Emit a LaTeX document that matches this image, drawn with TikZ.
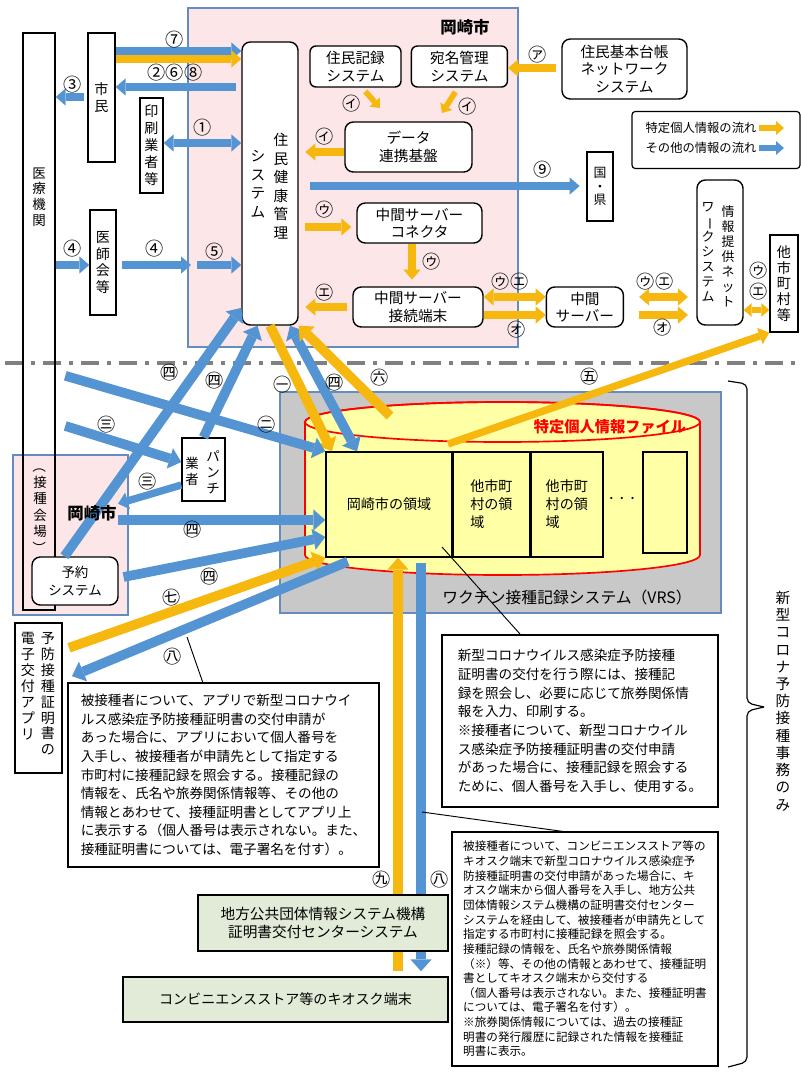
\documentclass[tikz,border=0pt]{standalone}
\usepackage{fontspec}
\setmainfont{Noto Sans CJK JP}
\usetikzlibrary{arrows.meta, positioning}

\definecolor{ocol}{RGB}{246,184,14}
\definecolor{bcol}{RGB}{84,148,210}
\definecolor{pinkbg}{RGB}{252,230,232}
\definecolor{framec}{RGB}{100,140,190}
\definecolor{vrsgray}{RGB}{200,200,200}
\definecolor{cylyel}{RGB}{255,255,165}
\definecolor{greenbg}{RGB}{225,235,215}
\definecolor{dashgray}{RGB}{128,128,128}

\newcommand{\vch}{\rotatebox[origin=c]{-90}{ー}} % long vowel mark in vertical text
\newcommand{\vparl}{\rotatebox[origin=c]{-90}{（}}
\newcommand{\vparr}{\rotatebox[origin=c]{-90}{）}}

\tikzset{
        box/.style={draw, line width=1.2pt, fill=white, inner sep=0pt, align=center, font=\fontsize{12.5}{15}\selectfont}, % plain boxes
        rbox/.style={box, rounded corners=2.5mm}, % rounded boxes
        vtxt/.style={inner sep=0pt, align=center}, % stacked (vertical) text
        cl/.style={inner sep=0pt, font=\fontsize{15.5}{15.5}\selectfont}, % circled labels
        note/.style={draw, line width=1.2pt, fill=white, inner sep=0pt, align=left}, % explanations
        area/.style={draw=framec, line width=0.5mm}, % coloured areas
        oarr/.style={draw=ocol, line width=2.2mm, ->}, % specific personal information
        barr/.style={draw=bcol, line width=2.2mm, ->}, % other information
        wide/.style={line width=2.9mm, >={Triangle[width=6.4mm,length=3.6mm,line width=0pt]}, ->},
        slim/.style={line width=1.7mm, >={Triangle[width=4.2mm,length=2.4mm,line width=0pt]}, ->},
    }

\begin{document}
\begin{tikzpicture}[x=0.3mm, y=-0.3mm, >={Triangle[width=5.2mm,length=3mm,line width=0pt]}]
    \useasboundingbox (0,0) rectangle (801,1073);
    % areas
    \draw[area, fill=pinkbg] (188,8) rectangle (518,347);
    \draw[area, fill=pinkbg] (13,455) rectangle (128,615);
    \draw[area, fill=vrsgray] (280,392) rectangle (721,613);
    \draw[red, line width=0.5mm, fill=cylyel] (305,422) -- (305,555)
      arc[start angle=180, end angle=360, x radius=59.25mm, y radius=6mm] -- (700,422)
      arc[start angle=0, end angle=180, x radius=59.25mm, y radius=6mm] -- cycle;
    \draw[red, line width=0.5mm] (502.5,422) ellipse[x radius=59.25mm, y radius=6mm];
    \draw[dashgray, line width=1.2mm, dash pattern=on 5.4mm off 2.4mm on 1.2mm off 2.4mm] (5,363) -- (801,363);
    \node[font=\bfseries\fontsize{14}{14}\selectfont] (okatop) at (465,27) {岡崎市};
    \node[font=\bfseries\fontsize{13}{13}\selectfont, text=red] (tokutei) at (610,427) {特定個人情報ファイル};
    \node[font=\fontsize{13.5}{13.5}\selectfont] (vrs) at (567,597) {ワクチン接種記録システム（VRS）};

    % left column
    \node[box, fill=none, minimum width=9.6mm, minimum height=173.1mm] (iryo) at (39,321.5) {};
    \node[vtxt, font=\fontsize{11.5}{13.5}\selectfont] (iryotxt) at (39,197) {医\\療\\機\\関};
    \node[vtxt, font=\fontsize{11.5}{14}\selectfont] (kaijo) at (40,507) {\vparl\\接\\種\\会\\場\\\vparr};
    \node[box, minimum width=8.1mm, minimum height=38.7mm, font=\fontsize{12}{14.5}\selectfont] (shimin) at (101.5,97.5) {市\\民};
    \node[box, minimum width=6.9mm, minimum height=28.5mm, font=\fontsize{12}{14.5}\selectfont] (insatsu) at (151.5,145.5) {印\\刷\\業\\者\\等};
    \node[box, minimum width=7.8mm, minimum height=31.5mm, font=\fontsize{12}{14.2}\selectfont] (ishikai) at (103,262.5) {医\\師\\会\\等};

    % Okazaki city systems
    \node[rbox, minimum width=16.8mm, minimum height=84.9mm] (kenko) at (270,183.5) {};
    \node[vtxt, font=\fontsize{12.5}{15.8}\selectfont] (kenkoA) at (281,186) {住\\民\\健\\康\\管\\理};
    \node[vtxt, font=\fontsize{12.5}{15.8}\selectfont] (kenkoB) at (258,184) {シ\\ス\\テ\\ム};
    \node[rbox, rounded corners=1.8mm, minimum width=27.3mm, minimum height=12.3mm] (juki) at (355.5,66.5) {住民記録\\システム};
    \node[rbox, rounded corners=1.8mm, minimum width=28.8mm, minimum height=12.3mm, right=2.7mm of juki] (atena) {宛名管理\\システム};
    \node[rbox, minimum width=37.5mm, minimum height=18mm] (jukinet) at (624.5,69) {住民基本台帳\\ネットワーク\\システム};
    \node[rbox, minimum width=38.1mm, minimum height=15mm] (renkei) at (408.5,147) {データ\\連携基盤};
    \node[rbox, minimum width=37.5mm, minimum height=12mm] (connector) at (419.5,223) {中間サーバー\\コネクタ};
    \node[rbox, minimum width=39mm, minimum height=12mm] (setsuzoku) at (418,307) {中間サーバー\\接続端末};
    \node[rbox, minimum width=23.1mm, minimum height=12mm, right=18.6mm of setsuzoku] (chukan) {中間\\サーバー};
    \node[box, minimum width=7.8mm, minimum height=20.7mm, font=\fontsize{11}{11.5}\selectfont] (kuni) at (600,186.5) {国\\・\\県};
    \node[rbox, minimum width=13.8mm, minimum height=43.5mm] (teikyo) at (720,252.5) {};
    \node[vtxt, font=\fontsize{11}{12.8}\selectfont] (teikyoA) at (728,256) {情\\報\\提\\供\\ネ\\ッ\\ト};
    \node[vtxt, font=\fontsize{11}{12.8}\selectfont] (teikyoB) at (708,252) {ワ\\\vch\\ク\\シ\\ス\\テ\\ム};
    \node[box, minimum width=8.4mm, minimum height=29.1mm, font=\fontsize{12}{13.4}\selectfont] (tashi) at (784,283.5) {他\\市\\町\\村\\等};
    \node[draw, line width=1pt, rounded corners=1mm, fill=white, minimum width=50.4mm, minimum height=17.1mm] (legend) at (716,140) {};
    \node[inner sep=0pt, font=\fontsize{10.5}{10.5}\selectfont] (leg1) at (701,128) {特定個人情報の流れ};
    \node[inner sep=0pt, font=\fontsize{10.5}{10.5}\selectfont] (leg2) at (701,148) {その他の情報の流れ};
    \coordinate (lo) at (784,128);
    \coordinate (lb) at (784,148);

    % lower part
    \node[rbox, minimum width=25.8mm, minimum height=14.4mm, font=\fontsize{11.5}{15}\selectfont] (yoyaku) at (75,581) {予約\\システム};
    \draw[barr, line width=2.9mm, >={Triangle[width=6.4mm,length=3.6mm,line width=0pt]}, ->] (yoyaku.113) -- (kenko.-103);
    \node[font=\bfseries\fontsize{14}{14}\selectfont, inner sep=1pt] (okalbl) at (92,513) {岡崎市};
    \node[box, minimum width=12.9mm, minimum height=18.9mm] (punch) at (203.5,469.5) {};
    \node[vtxt, font=\fontsize{11.5}{13.5}\selectfont] (punchA) at (213,472) {パ\\ン\\チ};
    \node[vtxt, font=\fontsize{11.5}{13.5}\selectfont] (punchB) at (192,471) {業\\者};
    \node[box, fill=cylyel, minimum width=37.8mm, minimum height=31.5mm, font=\fontsize{12}{15}\selectfont] (ryoiki) at (389,504.5) {岡崎市の領域};
    \node[box, fill=cylyel, minimum width=22.8mm, minimum height=31.5mm, align=left, font=\fontsize{12}{15.3}\selectfont, right=0mm of ryoiki] (tashiA) {他市町\\村の領\\域};
    \node[box, fill=cylyel, minimum width=21.6mm, minimum height=31.5mm, align=left, font=\fontsize{12}{15.3}\selectfont, right=0mm of tashiA] (tashiB) {他市町\\村の領\\域};
    \node[font=\fontsize{9}{9}\selectfont] (dots) at (622,500) {・・・};
    \node[box, fill=cylyel, minimum width=13.2mm, minimum height=30.3mm] (other) at (665,502.5) {};
    \node[box, minimum width=14.1mm, minimum height=45mm] (app) at (38.5,698) {};
    \node[vtxt, anchor=north, font=\fontsize{12}{13.6}\selectfont] (appA) at (48,632) {予\\防\\接\\種\\証\\明\\書\\の};
    \node[vtxt, anchor=north, font=\fontsize{12}{13.6}\selectfont] (appB) at (28,632) {電\\子\\交\\付\\ア\\プ\\リ};
    \node[box, fill=greenbg, minimum width=97.5mm, minimum height=13.5mm, font=\fontsize{12}{12}\selectfont] (kiosk) at (285.5,999.5) {コンビニエンスストア等のキオスク端末};

    \coordinate (p4) at (191,265);
    \coordinate (p5) at (197,265);
    \coordinate (i1) at (380,108);
    \coordinate (i2) at (442,113);
    \coordinate (top5) at (448,444);
    \coordinate (top6) at (390,416);
    \coordinate (cA) at (442,547);
    \coordinate (cB) at (187,637);
    \coordinate (cC) at (422,812);

    % flows inside the city
    \draw[barr] (shimin.east |- 0,51) -- (kenko.west |- 0,51);
    \draw[oarr] (shimin.east |- 0,59) -- (kenko.west |- 0,59);
    \draw[barr, shorten <=1.5mm] (kenko.west |- 0,87) -- (shimin.east |- 0,87);
    \draw[barr, shorten <=1mm] (shimin.west |- 0,97) -- (iryo.east |- 0,97);
    \draw[barr, <->] (insatsu.east |- 0,143) -- (kenko.west |- 0,143);
    \draw[barr] (iryo.east |- 0,265) -- (ishikai.west |- 0,265);
    \draw[barr, shorten <=1.5mm] (ishikai.east |- 0,265) -- (p4);
    \draw[barr] (p5) -- (kenko.west |- 0,265);
    \draw[oarr, slim, shorten <=1.5mm] (juki.south -| 362,0) -- (i1);
    \draw[oarr, slim, shorten <=1.5mm] (atena.south -| 458,0) -- (i2);
    \draw[oarr, shorten >=2mm] (renkei.west |- 0,152) -- (kenko.east |- 0,152);
    \draw[barr, shorten <=3.5mm, shorten >=2mm] (kenko.east |- 0,186) -- (kuni.west |- 0,186);
    \draw[oarr, shorten <=2mm, shorten >=1.5mm] (kenko.east |- 0,227) -- (connector.west |- 0,227);
    \draw[oarr, shorten >=2mm] (connector.south -| 412,0) -- (setsuzoku.north -| 412,0);
    \draw[oarr, shorten <=1.5mm, shorten >=2mm] (setsuzoku.west |- 0,307) -- (kenko.east |- 0,307);
    \draw[oarr, shorten <=1.5mm] (jukinet.west |- 0,68) -- (atena.east |- 0,68);
    \draw[oarr, <->] (setsuzoku.east |- 0,297) -- (chukan.west |- 0,297);
    \draw[oarr] (setsuzoku.east |- 0,315) -- (chukan.west |- 0,315);
    \draw[oarr, shorten <=4.5mm, shorten >=2.5mm, <->] (chukan.east |- 0,297) -- (teikyo.west |- 0,297);
    \draw[oarr, shorten <=4.5mm, shorten >=2.5mm] (chukan.east |- 0,315) -- (teikyo.west |- 0,315);
    \draw[oarr, slim, <->] (teikyo.east |- 0,310) -- (tashi.west |- 0,310);
    \draw[oarr, slim, shorten <=0.8mm] (leg1.east) -- (lo);
    \draw[barr, slim, shorten <=0.8mm] (leg2.east) -- (lb);

    % flows to and from VRS
    \draw[oarr] (top5) -- (tashi.south west);
    \draw[oarr, wide] (kenko.south) -- (ryoiki.137);
    \draw[barr, wide, <->] (kenko.-82) -- (ryoiki.121);
    \draw[oarr, wide] (top6) -- (kenko.south east);
    \draw[barr, wide] (punch.north) -- (kenko.-95);
    \draw[barr, wide, shorten <=3mm] (iryo.east |- 0,373) -- (ryoiki.north west);
    \draw[barr, wide, shorten <=3mm] (iryo.east |- 0,423) -- (punch.west |- 0,462);
    \draw[barr] (punch.west |- 0,485) -- (okalbl.north east);
    \draw[barr, wide] (okalbl.east |- 0,520) -- (ryoiki.west |- 0,520);
    \draw[barr, wide, shorten <=1.5mm] (yoyaku.east |- 0,578) -- (ryoiki.west |- 0,537);
    \draw[oarr, wide, shorten <=2mm] (app.east |- 0,650) -- (ryoiki.south west);
    \draw[barr, wide, shorten <=3mm, shorten >=3mm] (ryoiki.south -| 357,0) -- (app.east |- 0,680);
    \draw[oarr, wide, shorten <=1.5mm] (kiosk.north -| 398,0) -- (ryoiki.south -| 398,0);
    \draw[barr, wide, shorten <=1.5mm, shorten >=1.5mm] (ryoiki.south -| 421,0) -- (kiosk.north -| 421,0);
    \node[box, fill=greenbg, minimum width=75mm, minimum height=16.8mm, font=\fontsize{12.5}{15.3}\selectfont] (jlis) at (323,923) {地方公共団体情報システム機構\\証明書交付センターシステム};

    % explanations
    \draw[line width=0.8pt] (cA) -- (520,634);
    \draw[line width=0.8pt] (cB) -- (203,683);
    \draw[line width=0.8pt] (cC) -- (567,832);
    \node[note, minimum width=93.3mm, minimum height=55.2mm, font=\fontsize{11.6}{15.9}\selectfont] (note1) at (223.5,775) {被接種者について、アプリで新型コロナウイ\\ルス感染症予防接種証明書の交付申請が\\あった場合に、アプリにおいて個人番号を\\入手し、被接種者が申請先として指定する\\市町村に接種記録を照会する。接種記録の\\情報を、氏名や旅券関係情報等、その他の\\情報とあわせて、接種証明書としてアプリ上\\に表示する（個人番号は表示されない。また、\\接種証明書については、電子署名を付す）。};
    \node[note, minimum width=82.8mm, minimum height=51.6mm, font=\fontsize{11.6}{15.9}\selectfont] (note2) at (580,721) {新型コロナウイルス感染症予防接種\\証明書の交付を行う際には、接種記\\録を照会し、必要に応じて旅券関係情\\報を入力、印刷する。\\※接種者について、新型コロナウイル\\ス感染症予防接種証明書の交付申請\\があった場合に、接種記録を照会する\\ために、個人番号を入手し、使用する。};
    \node[note, minimum width=79.8mm, minimum height=70.2mm, font=\fontsize{9.9}{12.5}\selectfont] (note3) at (585,949) {被接種者について、コンビニエンスストア等の\\キオスク端末で新型コロナウイルス感染症予\\防接種証明書の交付申請があった場合に、キ\\オスク端末から個人番号を入手し、地方公共\\団体情報システム機構の証明書交付センター\\システムを経由して、被接種者が申請先として\\指定する市町村に接種記録を照会する。\\接種記録の情報を、氏名や旅券関係情報\\（※）等、その他の情報とあわせて、接種証明\\書としてキオスク端末から交付する\\（個人番号は表示されない。また、接種証明書\\については、電子署名を付す）。\\※旅券関係情報については、過去の接種証\\明書の発行履歴に記録された情報を接種証\\明書に表示。};

    % brace on the right
    \draw[line width=1pt, rounded corners=1.5mm] (728,381) -- (747,384) -- (747,703) -- (764,707);
    \draw[line width=1pt, rounded corners=1.5mm] (764,707) -- (747,711) -- (747,1062) -- (728,1067);
    \node[vtxt, font=\fontsize{12.5}{14.7}\selectfont] (shinkei) at (783,701) {新\\型\\コ\\ロ\\ナ\\予\\防\\接\\種\\事\\務\\の\\み};

    % circled labels
    \node[cl] (c7) at (175,40) {⑦};
    \node[cl] (c268) at (175,73) {②⑥⑧};
    \node[cl] (c3) at (73,85) {③};
    \node[cl] (c1) at (203,128) {①};
    \node[cl] (c4a) at (73,249) {④};
    \node[cl] (c4b) at (155,249) {④};
    \node[cl] (c5) at (215,252) {⑤};
    \node[cl] (ci1) at (352,104) {㋑};
    \node[cl] (ci2) at (468,107) {㋑};
    \node[cl] (ci3) at (325,137) {㋑};
    \node[cl] (ca) at (538,55) {㋐};
    \node[cl] (c9) at (543,170) {⑨};
    \node[cl] (cu1) at (325,210) {㋒};
    \node[cl] (cu2) at (432,262) {㋒};
    \node[cl] (ce1) at (325,293) {㋓};
    \node[cl] (cue1) at (510,282) {㋒㋓};
    \node[cl] (co1) at (517,330) {㋔};
    \node[cl] (cue2) at (655,282) {㋒㋓};
    \node[cl] (co2) at (663,328) {㋔};
    \node[cl] (cu3) at (759,271) {㋒};
    \node[cl] (ce3) at (759,292) {㋓};
    \node[cl] (k5) at (590,377) {㊄};
    \node[cl] (k1) at (283,385) {㊀};
    \node[cl] (k4a) at (335,383) {㊃};
    \node[cl] (k6) at (380,378) {㊅};
    \node[cl] (k4b) at (215,381) {㊃};
    \node[cl] (k4c) at (170,373) {㊃};
    \node[cl] (k2) at (267,425) {㊁};
    \node[cl] (k3a) at (107,425) {㊂};
    \node[cl] (k3b) at (148,482) {㊂};
    \node[cl] (k4d) at (193,530) {㊃};
    \node[cl] (k4e) at (210,577) {㊃};
    \node[cl] (k7) at (172,598) {㊆};
    \node[cl] (k8a) at (173,657) {㊇};
    \node[cl] (k9) at (382,880) {㊈};
    \node[cl] (k8b) at (440,880) {㊇};
\end{tikzpicture}
\end{document}
